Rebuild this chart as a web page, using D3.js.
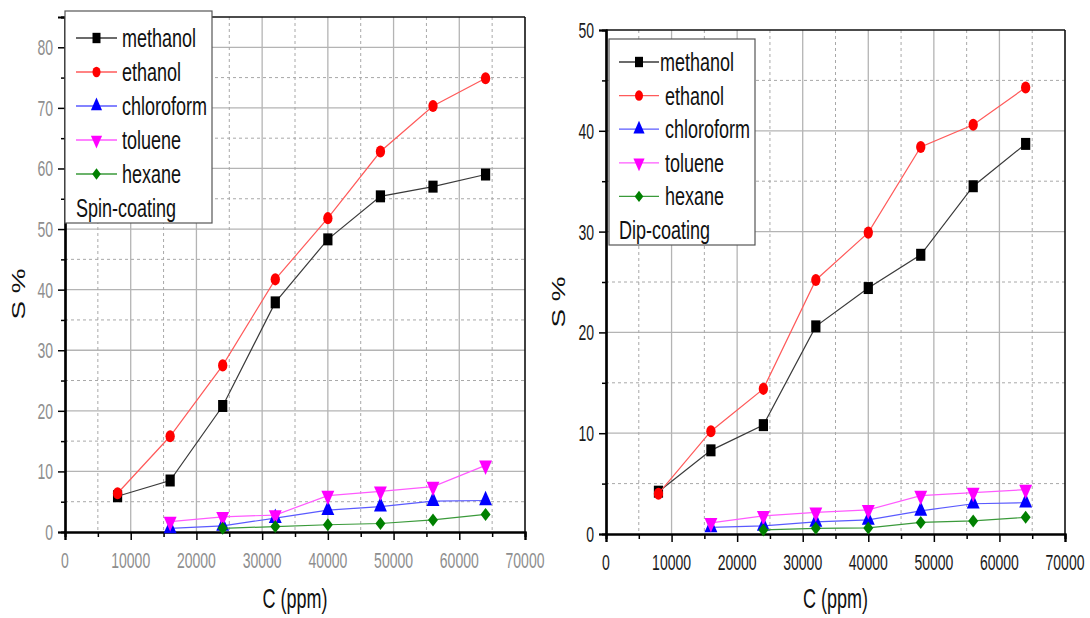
<!DOCTYPE html>
<html>
<head>
<meta charset="utf-8">
<script src="https://cdn.jsdelivr.net/npm/d3@7"></script>
<style>
  html, body { margin: 0; padding: 0; background: #fff; }
  svg { display: block; }
  text { font-family: "Liberation Sans", Arial, sans-serif; }
</style>
</head>
<body>
<svg id="chart" width="1090" height="618"></svg>
<script>
// ---------------- data ----------------
const conc = [8000, 16000, 24000, 32000, 40000, 48000, 56000, 64000];
const seriesNames = ["methanol", "ethanol", "chloroform", "toluene", "hexane"];

const spinMethanol   = [5.9, 8.5, 20.8, 37.9, 48.3, 55.4, 57.0, 59.0];
const spinEthanol    = [6.4, 15.8, 27.5, 41.7, 51.8, 62.8, 70.3, 74.9];
const spinChloroform = [null, 0.6, 1.0, 2.3, 3.6, 4.2, 5.1, 5.2];
const spinToluene    = [null, 1.7, 2.5, 2.8, 6.0, 6.7, 7.5, 11.0];
const spinHexane     = [null, null, 0.6, 0.9, 1.2, 1.4, 2.0, 2.9];

const dipMethanol   = [4.2, 8.3, 10.8, 20.6, 24.4, 27.7, 34.5, 38.7];
const dipEthanol    = [4.0, 10.2, 14.4, 25.2, 29.9, 38.4, 40.6, 44.3];
const dipChloroform = [null, 0.66, 0.8, 1.2, 1.4, 2.3, 3.0, 3.1];
const dipToluene    = [null, 1.1, 1.8, 2.15, 2.4, 3.8, 4.1, 4.4];
const dipHexane     = [null, null, 0.4, 0.56, 0.6, 1.15, 1.3, 1.65];

const xTickValues = [0, 10000, 20000, 30000, 40000, 50000, 60000, 70000];
const spinYTicks = [0, 10, 20, 30, 40, 50, 60, 70, 80];
const dipYTicks = [0, 10, 20, 30, 40, 50];
const xTitle = "C (ppm)";
const yTitle = "S %";
const spinLabel = "Spin-coating";
const dipLabel = "Dip-coating";

// ---------------- styles ----------------
const styles = {
  methanol:   { marker: "#000000", line: "#3a3a3a", symbol: d3.symbolSquare,   size: 85, rot: 0 },
  ethanol:    { marker: "#ff0000", line: "#ff5a5a", symbol: d3.symbolCircle,   size: 68, rot: 0 },
  chloroform: { marker: "#0000ff", line: "#5a5aff", symbol: d3.symbolTriangle, size: 72, rot: 0 },
  toluene:    { marker: "#ff00ff", line: "#ff5aff", symbol: d3.symbolTriangle, size: 72, rot: 180 },
  hexane:     { marker: "#008000", line: "#3a9a3a", symbol: d3.symbolSquare,   size: 50, rot: 45 }
};

const svg = d3.select("#chart");
const SY = 1.55; // vertical text stretch of the original image

function stretchedText(g, x, y, str, size, anchor, color, sy) {
  return g.append("text")
    .attr("transform", `translate(${x},${y}) scale(1,${sy || SY})`)
    .attr("text-anchor", anchor)
    .attr("font-size", size)
    .attr("fill", color)
    .text(str);
}

function drawPanel(cfg) {
  const g = svg.append("g");
  const x = d3.scaleLinear().domain([0, 70000]).range([cfg.left, cfg.right]);
  const y = d3.scaleLinear().domain([0, cfg.ymax]).range([cfg.bottom, cfg.top]);

  // grid
  const xMajor = d3.range(10000, 70000, 10000);
  const xMinor = d3.range(5000, 70000, 10000);
  const yMajor = d3.range(10, cfg.ymax, 10);
  const yMinor = d3.range(5, cfg.ymax, 10);
  g.selectAll(".gxM").data(xMajor).join("line")
    .attr("x1", d => x(d)).attr("x2", d => x(d)).attr("y1", cfg.top).attr("y2", cfg.bottom)
    .attr("stroke", "#b4b4b4").attr("stroke-width", 1.3);
  g.selectAll(".gyM").data(yMajor).join("line")
    .attr("y1", d => y(d)).attr("y2", d => y(d)).attr("x1", cfg.left).attr("x2", cfg.right)
    .attr("stroke", "#b4b4b4").attr("stroke-width", 1.3);
  g.selectAll(".gxm").data(xMinor).join("line")
    .attr("x1", d => x(d)).attr("x2", d => x(d)).attr("y1", cfg.top).attr("y2", cfg.bottom)
    .attr("stroke", "#a8a8a8").attr("stroke-width", 1).attr("stroke-dasharray", "3,3");
  g.selectAll(".gym").data(yMinor).join("line")
    .attr("y1", d => y(d)).attr("y2", d => y(d)).attr("x1", cfg.left).attr("x2", cfg.right)
    .attr("stroke", "#a8a8a8").attr("stroke-width", 1).attr("stroke-dasharray", "3,3");

  // frame top/right
  g.append("line").attr("x1", cfg.left).attr("x2", cfg.right).attr("y1", cfg.top).attr("y2", cfg.top)
    .attr("stroke", "#111").attr("stroke-width", 1.6);
  g.append("line").attr("x1", cfg.right).attr("x2", cfg.right).attr("y1", cfg.top).attr("y2", cfg.bottom)
    .attr("stroke", "#111").attr("stroke-width", 1.6);

  // axes with ticks (major + minor)
  const xAxisMinor = d3.axisBottom(x).tickValues(d3.range(5000, 70000, 10000)).tickSize(5).tickFormat("");
  const xAxisMajor = d3.axisBottom(x).tickValues(cfg.xTicks).tickSize(8).tickFormat("");
  const yAxisMinor = d3.axisLeft(y).tickValues(d3.range(5, cfg.ymax + 1, 10)).tickSize(4).tickFormat("");
  const yAxisMajor = d3.axisLeft(y).tickValues(cfg.yTicks).tickSize(7).tickFormat("");
  [xAxisMinor, xAxisMajor].forEach(a => {
    const ag = g.append("g").attr("transform", `translate(0,${cfg.bottom})`).call(a);
    ag.select(".domain").attr("stroke", "#000").attr("stroke-width", 2.2);
    ag.selectAll(".tick line").attr("stroke", "#000").attr("stroke-width", 1.5);
  });
  [yAxisMinor, yAxisMajor].forEach(a => {
    const ag = g.append("g").attr("transform", `translate(${cfg.left},0)`).call(a);
    ag.select(".domain").attr("stroke", "#000").attr("stroke-width", 2.2);
    ag.selectAll(".tick line").attr("stroke", "#000").attr("stroke-width", 1.5);
  });

  // tick labels
  cfg.xTicks.forEach(t => stretchedText(g, x(t), cfg.bottom + 36, String(t), 14, "middle", cfg.tickColor));
  cfg.yTicks.forEach(t => stretchedText(g, cfg.left - 12, y(t) + 8, String(t), 14, "end", cfg.tickColor));

  // axis titles
  stretchedText(g, (cfg.left + cfg.right) / 2 + cfg.xTitleDx, 608, xTitle, 18, "middle", "#111");
  g.append("text")
    .attr("transform", `translate(${cfg.yTitleX},${cfg.yTitleY}) rotate(-90) scale(${SY},1)`)
    .attr("text-anchor", "middle").attr("font-size", 18).attr("fill", "#111").text(yTitle);

  // series
  const line = d3.line().defined(d => d.v != null).x(d => x(d.c)).y(d => y(d.v));
  cfg.series.forEach((vals, i) => {
    const name = seriesNames[i];
    const st = styles[name];
    const pts = conc.map((c, k) => ({ c, v: vals[k] }));
    g.append("path").datum(pts).attr("d", line)
      .attr("fill", "none").attr("stroke", st.line).attr("stroke-width", 1.2);
    g.selectAll(".m" + name).data(pts.filter(d => d.v != null)).join("path")
      .attr("d", d3.symbol().type(st.symbol).size(st.size))
      .attr("transform", d => `translate(${x(d.c)},${y(d.v)}) scale(1,1.3) rotate(${st.rot})`)
      .attr("fill", st.marker);
  });

  // legend
  const L = cfg.legend;
  g.append("rect").attr("x", L.x).attr("y", L.y).attr("width", L.w).attr("height", L.h)
    .attr("fill", "#fff").attr("stroke", "#555").attr("stroke-width", 1.2);
  seriesNames.forEach((name, i) => {
    const st = styles[name];
    const ry = L.rowY + i * L.rowStep;
    g.append("line").attr("x1", L.lx1).attr("x2", L.lx2).attr("y1", ry).attr("y2", ry)
      .attr("stroke", st.line).attr("stroke-width", 1.3);
    g.append("path").attr("d", d3.symbol().type(st.symbol).size(st.size * 0.75))
      .attr("transform", `translate(${(L.lx1 + L.lx2) / 2},${ry}) scale(1,1.3) rotate(${st.rot})`)
      .attr("fill", st.marker);
    stretchedText(g, L.tx + (i === 0 ? L.firstDx : 0), ry + 9, name, 18, "start", "#111", 1.38);
  });
  stretchedText(g, L.lx1, L.rowY + 5 * L.rowStep + 9, cfg.label, 18, "start", "#111", 1.38);
}

drawPanel({
  left: 65, right: 525, top: 17, bottom: 532, ymax: 85,
  xTicks: xTickValues, yTicks: spinYTicks, tickColor: "#8e8e8e",
  xTitleDx: 0, yTitleX: 25, yTitleY: 294,
  series: [spinMethanol, spinEthanol, spinChloroform, spinToluene, spinHexane],
  label: spinLabel,
  legend: { x: 65, y: 11, w: 147, h: 212, rowY: 38, rowStep: 34, lx1: 76, lx2: 117, tx: 122, firstDx: 0 }
});

drawPanel({
  left: 606, right: 1065, top: 30, bottom: 534, ymax: 50,
  xTicks: xTickValues, yTicks: dipYTicks, tickColor: "#1a1a1a",
  xTitleDx: 0, yTitleX: 565, yTitleY: 302,
  series: [dipMethanol, dipEthanol, dipChloroform, dipToluene, dipHexane],
  label: dipLabel,
  legend: { x: 609, y: 39, w: 146, h: 206, rowY: 62, rowStep: 33.6, lx1: 619, lx2: 659, tx: 665, firstDx: -5 }
});
</script>
</body>
</html>
